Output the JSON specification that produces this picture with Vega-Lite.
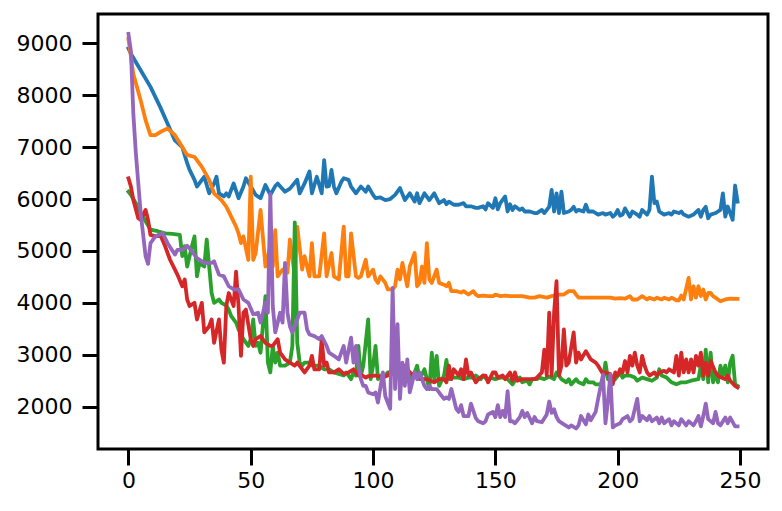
{
"$schema": "https://vega.github.io/schema/vega-lite/v6.json",
"width": 670, "height": 435,
"autosize": "none",
"padding": {"left": 98, "top": 14, "right": 14, "bottom": 62},
"background": "white",
"config": {"view": {"stroke": "black", "strokeWidth": 3}, "font": "DejaVu Sans"},
"data": {"values": [
{"s":0,"x":0,"y":8900},{"s":0,"x":1,"y":8800},{"s":0,"x":5,"y":8480},{"s":0,"x":9,"y":8160},{"s":0,"x":13,"y":7770},{"s":0,"x":16,"y":7450},{"s":0,"x":19,"y":7130},{"s":0,"x":22,"y":7000},{"s":0,"x":24,"y":6690},{"s":0,"x":25,"y":6560},{"s":0,"x":27,"y":6370},{"s":0,"x":28,"y":6240},{"s":0,"x":31,"y":6430},{"s":0,"x":33,"y":6110},{"s":0,"x":35,"y":6300},{"s":0,"x":36,"y":6430},{"s":0,"x":37,"y":6110},{"s":0,"x":39,"y":6050},{"s":0,"x":40,"y":6110},{"s":0,"x":41,"y":6050},{"s":0,"x":43,"y":6300},{"s":0,"x":45,"y":6015},{"s":0,"x":47,"y":6240},{"s":0,"x":48,"y":6400},{"s":0,"x":50,"y":6240},{"s":0,"x":52,"y":6080},{"s":0,"x":54,"y":6015},{"s":0,"x":56,"y":6270},{"s":0,"x":58,"y":6080},{"s":0,"x":60,"y":6250},{"s":0,"x":61,"y":6300},{"s":0,"x":64,"y":6140},{"s":0,"x":66,"y":6200},{"s":0,"x":69,"y":6370},{"s":0,"x":70,"y":6110},{"s":0,"x":72,"y":6300},{"s":0,"x":74,"y":6530},{"s":0,"x":75,"y":6110},{"s":0,"x":77,"y":6430},{"s":0,"x":79,"y":6110},{"s":0,"x":80,"y":6750},{"s":0,"x":81,"y":6240},{"s":0,"x":82,"y":6250},{"s":0,"x":83,"y":6560},{"s":0,"x":84,"y":6240},{"s":0,"x":85,"y":6110},{"s":0,"x":87,"y":6330},{"s":0,"x":88,"y":6400},{"s":0,"x":90,"y":6370},{"s":0,"x":91,"y":6240},{"s":0,"x":93,"y":6110},{"s":0,"x":94,"y":6175},{"s":0,"x":95,"y":6240},{"s":0,"x":97,"y":6140},{"s":0,"x":98,"y":6240},{"s":0,"x":100,"y":6080},{"s":0,"x":101,"y":6015},{"s":0,"x":103,"y":6030},{"s":0,"x":105,"y":5980},{"s":0,"x":107,"y":6000},{"s":0,"x":109,"y":6080},{"s":0,"x":111,"y":6210},{"s":0,"x":113,"y":5980},{"s":0,"x":115,"y":6110},{"s":0,"x":117,"y":5950},{"s":0,"x":118,"y":6110},{"s":0,"x":119,"y":5920},{"s":0,"x":121,"y":6110},{"s":0,"x":123,"y":5980},{"s":0,"x":125,"y":6110},{"s":0,"x":127,"y":5920},{"s":0,"x":129,"y":5980},{"s":0,"x":130,"y":5900},{"s":0,"x":131,"y":5950},{"s":0,"x":133,"y":5890},{"s":0,"x":135,"y":5890},{"s":0,"x":137,"y":5920},{"s":0,"x":138,"y":5860},{"s":0,"x":140,"y":5860},{"s":0,"x":142,"y":5830},{"s":0,"x":143,"y":5830},{"s":0,"x":145,"y":5860},{"s":0,"x":146,"y":5800},{"s":0,"x":147,"y":5920},{"s":0,"x":149,"y":5830},{"s":0,"x":150,"y":6015},{"s":0,"x":151,"y":5800},{"s":0,"x":152,"y":5920},{"s":0,"x":154,"y":6050},{"s":0,"x":155,"y":5760},{"s":0,"x":156,"y":5900},{"s":0,"x":157,"y":5790},{"s":0,"x":158,"y":5860},{"s":0,"x":160,"y":5790},{"s":0,"x":161,"y":5820},{"s":0,"x":162,"y":5760},{"s":0,"x":164,"y":5760},{"s":0,"x":166,"y":5730},{"s":0,"x":167,"y":5730},{"s":0,"x":169,"y":5790},{"s":0,"x":170,"y":5730},{"s":0,"x":172,"y":5850},{"s":0,"x":173,"y":6175},{"s":0,"x":174,"y":5760},{"s":0,"x":175,"y":6110},{"s":0,"x":176,"y":5730},{"s":0,"x":177,"y":6140},{"s":0,"x":178,"y":5730},{"s":0,"x":180,"y":5760},{"s":0,"x":181,"y":5790},{"s":0,"x":182,"y":5850},{"s":0,"x":183,"y":5760},{"s":0,"x":184,"y":5790},{"s":0,"x":186,"y":5760},{"s":0,"x":187,"y":5890},{"s":0,"x":188,"y":5760},{"s":0,"x":190,"y":5760},{"s":0,"x":192,"y":5700},{"s":0,"x":194,"y":5730},{"s":0,"x":195,"y":5700},{"s":0,"x":197,"y":5730},{"s":0,"x":198,"y":5660},{"s":0,"x":199,"y":5700},{"s":0,"x":200,"y":5790},{"s":0,"x":201,"y":5680},{"s":0,"x":202,"y":5700},{"s":0,"x":203,"y":5820},{"s":0,"x":205,"y":5660},{"s":0,"x":206,"y":5760},{"s":0,"x":208,"y":5700},{"s":0,"x":209,"y":5660},{"s":0,"x":210,"y":5790},{"s":0,"x":212,"y":5700},{"s":0,"x":213,"y":5790},{"s":0,"x":214,"y":6430},{"s":0,"x":215,"y":5920},{"s":0,"x":216,"y":5950},{"s":0,"x":217,"y":5760},{"s":0,"x":218,"y":5730},{"s":0,"x":219,"y":5700},{"s":0,"x":221,"y":5730},{"s":0,"x":222,"y":5700},{"s":0,"x":223,"y":5760},{"s":0,"x":225,"y":5730},{"s":0,"x":226,"y":5760},{"s":0,"x":227,"y":5700},{"s":0,"x":229,"y":5660},{"s":0,"x":231,"y":5700},{"s":0,"x":233,"y":5790},{"s":0,"x":234,"y":5660},{"s":0,"x":235,"y":5790},{"s":0,"x":236,"y":5850},{"s":0,"x":237,"y":5630},{"s":0,"x":238,"y":5700},{"s":0,"x":240,"y":5730},{"s":0,"x":241,"y":5760},{"s":0,"x":242,"y":5790},{"s":0,"x":243,"y":6110},{"s":0,"x":244,"y":5660},{"s":0,"x":245,"y":5855},{"s":0,"x":246,"y":5730},{"s":0,"x":247,"y":5600},{"s":0,"x":248,"y":6260},{"s":0,"x":249,"y":5950},
{"s":1,"x":0,"y":9080},{"s":1,"x":2,"y":8410},{"s":1,"x":5,"y":7900},{"s":1,"x":7,"y":7520},{"s":1,"x":9,"y":7230},{"s":1,"x":11,"y":7230},{"s":1,"x":13,"y":7290},{"s":1,"x":16,"y":7360},{"s":1,"x":19,"y":7230},{"s":1,"x":22,"y":7000},{"s":1,"x":24,"y":6850},{"s":1,"x":27,"y":6810},{"s":1,"x":30,"y":6620},{"s":1,"x":33,"y":6370},{"s":1,"x":35,"y":6110},{"s":1,"x":38,"y":5980},{"s":1,"x":40,"y":5855},{"s":1,"x":42,"y":5660},{"s":1,"x":44,"y":5470},{"s":1,"x":45,"y":5340},{"s":1,"x":46,"y":5150},{"s":1,"x":47,"y":5280},{"s":1,"x":49,"y":4830},{"s":1,"x":50,"y":6430},{"s":1,"x":51,"y":4830},{"s":1,"x":52,"y":4960},{"s":1,"x":54,"y":5790},{"s":1,"x":56,"y":4700},{"s":1,"x":58,"y":5090},{"s":1,"x":59,"y":4700},{"s":1,"x":60,"y":5400},{"s":1,"x":61,"y":4510},{"s":1,"x":63,"y":4640},{"s":1,"x":65,"y":4580},{"s":1,"x":66,"y":5220},{"s":1,"x":68,"y":4510},{"s":1,"x":69,"y":5470},{"s":1,"x":71,"y":4640},{"s":1,"x":72,"y":4900},{"s":1,"x":74,"y":4510},{"s":1,"x":75,"y":5150},{"s":1,"x":76,"y":4510},{"s":1,"x":78,"y":4510},{"s":1,"x":80,"y":5340},{"s":1,"x":81,"y":4510},{"s":1,"x":83,"y":4960},{"s":1,"x":84,"y":4510},{"s":1,"x":86,"y":4450},{"s":1,"x":88,"y":5470},{"s":1,"x":89,"y":4510},{"s":1,"x":90,"y":4510},{"s":1,"x":91,"y":5340},{"s":1,"x":93,"y":4510},{"s":1,"x":94,"y":4480},{"s":1,"x":95,"y":4510},{"s":1,"x":97,"y":4830},{"s":1,"x":98,"y":4510},{"s":1,"x":100,"y":4640},{"s":1,"x":101,"y":4450},{"s":1,"x":102,"y":4385},{"s":1,"x":103,"y":4510},{"s":1,"x":105,"y":4385},{"s":1,"x":106,"y":4260},{"s":1,"x":108,"y":4260},{"s":1,"x":109,"y":4320},{"s":1,"x":110,"y":4640},{"s":1,"x":111,"y":4450},{"s":1,"x":112,"y":4770},{"s":1,"x":114,"y":4320},{"s":1,"x":115,"y":4700},{"s":1,"x":117,"y":4960},{"s":1,"x":118,"y":4320},{"s":1,"x":119,"y":4385},{"s":1,"x":120,"y":4700},{"s":1,"x":121,"y":4385},{"s":1,"x":122,"y":5150},{"s":1,"x":123,"y":4450},{"s":1,"x":124,"y":4385},{"s":1,"x":126,"y":4640},{"s":1,"x":127,"y":4385},{"s":1,"x":129,"y":4350},{"s":1,"x":130,"y":4320},{"s":1,"x":131,"y":4385},{"s":1,"x":132,"y":4225},{"s":1,"x":134,"y":4225},{"s":1,"x":136,"y":4200},{"s":1,"x":137,"y":4225},{"s":1,"x":139,"y":4160},{"s":1,"x":141,"y":4225},{"s":1,"x":142,"y":4160},{"s":1,"x":143,"y":4130},{"s":1,"x":145,"y":4140},{"s":1,"x":147,"y":4130},{"s":1,"x":149,"y":4130},{"s":1,"x":150,"y":4160},{"s":1,"x":152,"y":4130},{"s":1,"x":154,"y":4140},{"s":1,"x":156,"y":4130},{"s":1,"x":159,"y":4130},{"s":1,"x":161,"y":4130},{"s":1,"x":164,"y":4100},{"s":1,"x":166,"y":4100},{"s":1,"x":168,"y":4130},{"s":1,"x":171,"y":4100},{"s":1,"x":173,"y":4130},{"s":1,"x":176,"y":4160},{"s":1,"x":178,"y":4160},{"s":1,"x":180,"y":4225},{"s":1,"x":182,"y":4225},{"s":1,"x":183,"y":4160},{"s":1,"x":184,"y":4100},{"s":1,"x":186,"y":4100},{"s":1,"x":188,"y":4100},{"s":1,"x":191,"y":4100},{"s":1,"x":194,"y":4100},{"s":1,"x":197,"y":4100},{"s":1,"x":199,"y":4080},{"s":1,"x":201,"y":4090},{"s":1,"x":203,"y":4080},{"s":1,"x":205,"y":4130},{"s":1,"x":206,"y":4065},{"s":1,"x":208,"y":4065},{"s":1,"x":210,"y":4130},{"s":1,"x":212,"y":4065},{"s":1,"x":213,"y":4100},{"s":1,"x":215,"y":4065},{"s":1,"x":216,"y":4100},{"s":1,"x":218,"y":4065},{"s":1,"x":219,"y":4100},{"s":1,"x":221,"y":4065},{"s":1,"x":222,"y":4100},{"s":1,"x":224,"y":4050},{"s":1,"x":225,"y":4050},{"s":1,"x":226,"y":4140},{"s":1,"x":227,"y":4065},{"s":1,"x":229,"y":4480},{"s":1,"x":230,"y":4065},{"s":1,"x":231,"y":4320},{"s":1,"x":232,"y":4100},{"s":1,"x":233,"y":4320},{"s":1,"x":234,"y":4130},{"s":1,"x":235,"y":4257},{"s":1,"x":236,"y":4065},{"s":1,"x":237,"y":4190},{"s":1,"x":238,"y":4190},{"s":1,"x":239,"y":4130},{"s":1,"x":240,"y":4100},{"s":1,"x":242,"y":4030},{"s":1,"x":244,"y":4065},{"s":1,"x":246,"y":4080},{"s":1,"x":249,"y":4078},
{"s":2,"x":0,"y":6140},{"s":2,"x":1,"y":6080},{"s":2,"x":3,"y":5920},{"s":2,"x":5,"y":5730},{"s":2,"x":7,"y":5570},{"s":2,"x":9,"y":5410},{"s":2,"x":12,"y":5380},{"s":2,"x":15,"y":5340},{"s":2,"x":18,"y":5330},{"s":2,"x":21,"y":5310},{"s":2,"x":22,"y":4900},{"s":2,"x":23,"y":5090},{"s":2,"x":24,"y":4700},{"s":2,"x":26,"y":5100},{"s":2,"x":27,"y":5280},{"s":2,"x":28,"y":4510},{"s":2,"x":29,"y":4770},{"s":2,"x":31,"y":4700},{"s":2,"x":32,"y":5220},{"s":2,"x":33,"y":4700},{"s":2,"x":34,"y":4190},{"s":2,"x":35,"y":4000},{"s":2,"x":37,"y":4065},{"s":2,"x":38,"y":4000},{"s":2,"x":40,"y":3950},{"s":2,"x":41,"y":3870},{"s":2,"x":42,"y":3745},{"s":2,"x":44,"y":3620},{"s":2,"x":45,"y":3490},{"s":2,"x":47,"y":3300},{"s":2,"x":49,"y":3170},{"s":2,"x":50,"y":3300},{"s":2,"x":51,"y":3680},{"s":2,"x":52,"y":3170},{"s":2,"x":53,"y":3230},{"s":2,"x":54,"y":3040},{"s":2,"x":56,"y":4130},{"s":2,"x":57,"y":2850},{"s":2,"x":58,"y":2660},{"s":2,"x":59,"y":3170},{"s":2,"x":60,"y":2850},{"s":2,"x":61,"y":3040},{"s":2,"x":62,"y":2790},{"s":2,"x":64,"y":2790},{"s":2,"x":66,"y":2850},{"s":2,"x":67,"y":3170},{"s":2,"x":68,"y":5550},{"s":2,"x":69,"y":3230},{"s":2,"x":70,"y":2850},{"s":2,"x":71,"y":2790},{"s":2,"x":72,"y":2850},{"s":2,"x":74,"y":2850},{"s":2,"x":75,"y":2790},{"s":2,"x":77,"y":2790},{"s":2,"x":78,"y":2790},{"s":2,"x":80,"y":2720},{"s":2,"x":82,"y":2720},{"s":2,"x":84,"y":2660},{"s":2,"x":86,"y":2630},{"s":2,"x":88,"y":2600},{"s":2,"x":89,"y":2660},{"s":2,"x":91,"y":2530},{"s":2,"x":92,"y":2660},{"s":2,"x":93,"y":2600},{"s":2,"x":94,"y":3170},{"s":2,"x":95,"y":2600},{"s":2,"x":96,"y":2790},{"s":2,"x":98,"y":3680},{"s":2,"x":99,"y":2530},{"s":2,"x":100,"y":2790},{"s":2,"x":101,"y":3170},{"s":2,"x":102,"y":2530},{"s":2,"x":103,"y":2600},{"s":2,"x":105,"y":2600},{"s":2,"x":106,"y":2660},{"s":2,"x":108,"y":2660},{"s":2,"x":109,"y":2600},{"s":2,"x":111,"y":2600},{"s":2,"x":112,"y":2530},{"s":2,"x":114,"y":2660},{"s":2,"x":116,"y":2530},{"s":2,"x":118,"y":2790},{"s":2,"x":119,"y":2530},{"s":2,"x":121,"y":2720},{"s":2,"x":123,"y":2340},{"s":2,"x":124,"y":3040},{"s":2,"x":125,"y":2530},{"s":2,"x":126,"y":2980},{"s":2,"x":127,"y":2400},{"s":2,"x":129,"y":2600},{"s":2,"x":130,"y":2900},{"s":2,"x":131,"y":2530},{"s":2,"x":132,"y":2600},{"s":2,"x":133,"y":2560},{"s":2,"x":135,"y":2560},{"s":2,"x":137,"y":2530},{"s":2,"x":139,"y":2560},{"s":2,"x":141,"y":2560},{"s":2,"x":142,"y":2600},{"s":2,"x":144,"y":2530},{"s":2,"x":145,"y":2600},{"s":2,"x":147,"y":2500},{"s":2,"x":148,"y":2560},{"s":2,"x":150,"y":2530},{"s":2,"x":152,"y":2560},{"s":2,"x":154,"y":2560},{"s":2,"x":155,"y":2530},{"s":2,"x":157,"y":2430},{"s":2,"x":158,"y":2500},{"s":2,"x":160,"y":2560},{"s":2,"x":161,"y":2470},{"s":2,"x":163,"y":2500},{"s":2,"x":164,"y":2430},{"s":2,"x":165,"y":2530},{"s":2,"x":167,"y":2530},{"s":2,"x":168,"y":2560},{"s":2,"x":170,"y":2530},{"s":2,"x":172,"y":2580},{"s":2,"x":174,"y":2530},{"s":2,"x":175,"y":2660},{"s":2,"x":177,"y":2530},{"s":2,"x":179,"y":2470},{"s":2,"x":180,"y":2530},{"s":2,"x":181,"y":2430},{"s":2,"x":183,"y":2530},{"s":2,"x":184,"y":2470},{"s":2,"x":186,"y":2430},{"s":2,"x":187,"y":2530},{"s":2,"x":188,"y":2470},{"s":2,"x":190,"y":2470},{"s":2,"x":191,"y":2430},{"s":2,"x":193,"y":2430},{"s":2,"x":194,"y":2530},{"s":2,"x":195,"y":2850},{"s":2,"x":196,"y":2530},{"s":2,"x":198,"y":2500},{"s":2,"x":199,"y":2530},{"s":2,"x":201,"y":2660},{"s":2,"x":202,"y":2560},{"s":2,"x":203,"y":2600},{"s":2,"x":205,"y":2600},{"s":2,"x":207,"y":2560},{"s":2,"x":208,"y":2500},{"s":2,"x":210,"y":2560},{"s":2,"x":212,"y":2530},{"s":2,"x":214,"y":2500},{"s":2,"x":216,"y":2560},{"s":2,"x":217,"y":2720},{"s":2,"x":218,"y":2600},{"s":2,"x":220,"y":2560},{"s":2,"x":222,"y":2470},{"s":2,"x":224,"y":2430},{"s":2,"x":226,"y":2470},{"s":2,"x":228,"y":2470},{"s":2,"x":230,"y":2500},{"s":2,"x":233,"y":2530},{"s":2,"x":234,"y":2790},{"s":2,"x":235,"y":2530},{"s":2,"x":236,"y":3100},{"s":2,"x":237,"y":2470},{"s":2,"x":238,"y":3040},{"s":2,"x":239,"y":2470},{"s":2,"x":240,"y":2660},{"s":2,"x":241,"y":2470},{"s":2,"x":242,"y":2790},{"s":2,"x":243,"y":2600},{"s":2,"x":244,"y":2790},{"s":2,"x":245,"y":2470},{"s":2,"x":246,"y":2850},{"s":2,"x":247,"y":2980},{"s":2,"x":248,"y":2430},{"s":2,"x":249,"y":2400},
{"s":3,"x":0,"y":6400},{"s":3,"x":1,"y":6240},{"s":3,"x":2,"y":5980},{"s":3,"x":4,"y":5630},{"s":3,"x":5,"y":5600},{"s":3,"x":7,"y":5790},{"s":3,"x":8,"y":5600},{"s":3,"x":9,"y":5310},{"s":3,"x":11,"y":5280},{"s":3,"x":13,"y":5310},{"s":3,"x":15,"y":5090},{"s":3,"x":17,"y":4830},{"s":3,"x":19,"y":4640},{"s":3,"x":20,"y":4545},{"s":3,"x":22,"y":4320},{"s":3,"x":23,"y":4450},{"s":3,"x":24,"y":4065},{"s":3,"x":25,"y":3940},{"s":3,"x":27,"y":4000},{"s":3,"x":28,"y":3680},{"s":3,"x":30,"y":4000},{"s":3,"x":31,"y":3430},{"s":3,"x":33,"y":3550},{"s":3,"x":34,"y":3680},{"s":3,"x":35,"y":3230},{"s":3,"x":37,"y":3680},{"s":3,"x":38,"y":3100},{"s":3,"x":39,"y":2850},{"s":3,"x":40,"y":3940},{"s":3,"x":41,"y":4190},{"s":3,"x":43,"y":3940},{"s":3,"x":44,"y":4600},{"s":3,"x":45,"y":3940},{"s":3,"x":46,"y":2980},{"s":3,"x":47,"y":3810},{"s":3,"x":48,"y":3870},{"s":3,"x":50,"y":3300},{"s":3,"x":51,"y":3170},{"s":3,"x":52,"y":3300},{"s":3,"x":54,"y":3360},{"s":3,"x":56,"y":3230},{"s":3,"x":58,"y":3170},{"s":3,"x":59,"y":3170},{"s":3,"x":61,"y":3300},{"s":3,"x":62,"y":3040},{"s":3,"x":64,"y":2910},{"s":3,"x":66,"y":2850},{"s":3,"x":68,"y":2790},{"s":3,"x":69,"y":2850},{"s":3,"x":72,"y":2660},{"s":3,"x":74,"y":2790},{"s":3,"x":75,"y":2980},{"s":3,"x":76,"y":2720},{"s":3,"x":78,"y":2720},{"s":3,"x":79,"y":3300},{"s":3,"x":80,"y":2790},{"s":3,"x":81,"y":2850},{"s":3,"x":82,"y":2660},{"s":3,"x":84,"y":2660},{"s":3,"x":86,"y":2720},{"s":3,"x":88,"y":2630},{"s":3,"x":90,"y":2660},{"s":3,"x":92,"y":2720},{"s":3,"x":93,"y":2660},{"s":3,"x":94,"y":2600},{"s":3,"x":95,"y":2620},{"s":3,"x":97,"y":2560},{"s":3,"x":98,"y":2590},{"s":3,"x":101,"y":2600},{"s":3,"x":104,"y":2560},{"s":3,"x":106,"y":2600},{"s":3,"x":109,"y":2790},{"s":3,"x":111,"y":2720},{"s":3,"x":113,"y":2790},{"s":3,"x":115,"y":2660},{"s":3,"x":117,"y":2600},{"s":3,"x":120,"y":2530},{"s":3,"x":122,"y":2530},{"s":3,"x":125,"y":2470},{"s":3,"x":127,"y":2530},{"s":3,"x":129,"y":2530},{"s":3,"x":130,"y":2470},{"s":3,"x":131,"y":2790},{"s":3,"x":132,"y":2530},{"s":3,"x":133,"y":2720},{"s":3,"x":135,"y":2600},{"s":3,"x":136,"y":2720},{"s":3,"x":137,"y":2530},{"s":3,"x":138,"y":2910},{"s":3,"x":139,"y":2600},{"s":3,"x":140,"y":2660},{"s":3,"x":142,"y":2470},{"s":3,"x":143,"y":2530},{"s":3,"x":145,"y":2600},{"s":3,"x":146,"y":2600},{"s":3,"x":147,"y":2470},{"s":3,"x":149,"y":2660},{"s":3,"x":150,"y":2660},{"s":3,"x":151,"y":2560},{"s":3,"x":153,"y":2600},{"s":3,"x":154,"y":2530},{"s":3,"x":156,"y":2660},{"s":3,"x":157,"y":2500},{"s":3,"x":158,"y":2660},{"s":3,"x":159,"y":2500},{"s":3,"x":161,"y":2530},{"s":3,"x":163,"y":2530},{"s":3,"x":165,"y":2530},{"s":3,"x":166,"y":2530},{"s":3,"x":167,"y":2560},{"s":3,"x":169,"y":2660},{"s":3,"x":170,"y":3100},{"s":3,"x":171,"y":2600},{"s":3,"x":172,"y":3810},{"s":3,"x":173,"y":2600},{"s":3,"x":174,"y":3810},{"s":3,"x":175,"y":4420},{"s":3,"x":176,"y":2600},{"s":3,"x":177,"y":2790},{"s":3,"x":178,"y":3490},{"s":3,"x":179,"y":2790},{"s":3,"x":180,"y":2850},{"s":3,"x":182,"y":3430},{"s":3,"x":183,"y":2850},{"s":3,"x":184,"y":3040},{"s":3,"x":185,"y":2910},{"s":3,"x":187,"y":3070},{"s":3,"x":189,"y":2910},{"s":3,"x":191,"y":2850},{"s":3,"x":192,"y":2790},{"s":3,"x":194,"y":2630},{"s":3,"x":195,"y":2660},{"s":3,"x":197,"y":2630},{"s":3,"x":198,"y":2435},{"s":3,"x":199,"y":2660},{"s":3,"x":200,"y":2600},{"s":3,"x":201,"y":2720},{"s":3,"x":202,"y":2660},{"s":3,"x":203,"y":2880},{"s":3,"x":204,"y":2660},{"s":3,"x":205,"y":2980},{"s":3,"x":206,"y":2790},{"s":3,"x":207,"y":3040},{"s":3,"x":208,"y":2790},{"s":3,"x":209,"y":2660},{"s":3,"x":210,"y":2980},{"s":3,"x":211,"y":2790},{"s":3,"x":212,"y":2660},{"s":3,"x":213,"y":2600},{"s":3,"x":215,"y":2660},{"s":3,"x":216,"y":2600},{"s":3,"x":217,"y":2660},{"s":3,"x":219,"y":2690},{"s":3,"x":220,"y":2660},{"s":3,"x":221,"y":2720},{"s":3,"x":223,"y":2660},{"s":3,"x":224,"y":2980},{"s":3,"x":225,"y":2600},{"s":3,"x":226,"y":3040},{"s":3,"x":227,"y":2660},{"s":3,"x":228,"y":2910},{"s":3,"x":229,"y":2660},{"s":3,"x":230,"y":2910},{"s":3,"x":231,"y":2660},{"s":3,"x":232,"y":2980},{"s":3,"x":233,"y":2790},{"s":3,"x":234,"y":3040},{"s":3,"x":235,"y":2600},{"s":3,"x":236,"y":2850},{"s":3,"x":237,"y":2600},{"s":3,"x":238,"y":2880},{"s":3,"x":240,"y":2660},{"s":3,"x":241,"y":2600},{"s":3,"x":242,"y":2570},{"s":3,"x":244,"y":2530},{"s":3,"x":245,"y":2600},{"s":3,"x":246,"y":2500},{"s":3,"x":248,"y":2400},{"s":3,"x":249,"y":2370},
{"s":4,"x":0,"y":9180},{"s":4,"x":1,"y":8850},{"s":4,"x":2,"y":7640},{"s":4,"x":3,"y":6900},{"s":4,"x":5,"y":5730},{"s":4,"x":7,"y":4900},{"s":4,"x":8,"y":4750},{"s":4,"x":9,"y":5150},{"s":4,"x":11,"y":5280},{"s":4,"x":14,"y":5340},{"s":4,"x":16,"y":5150},{"s":4,"x":19,"y":4930},{"s":4,"x":20,"y":5020},{"s":4,"x":22,"y":5020},{"s":4,"x":24,"y":5100},{"s":4,"x":26,"y":4990},{"s":4,"x":28,"y":4860},{"s":4,"x":31,"y":4770},{"s":4,"x":34,"y":4770},{"s":4,"x":35,"y":4800},{"s":4,"x":37,"y":4545},{"s":4,"x":39,"y":4510},{"s":4,"x":41,"y":4320},{"s":4,"x":43,"y":4260},{"s":4,"x":45,"y":4260},{"s":4,"x":47,"y":4065},{"s":4,"x":49,"y":4000},{"s":4,"x":51,"y":3780},{"s":4,"x":53,"y":3810},{"s":4,"x":54,"y":3620},{"s":4,"x":56,"y":4000},{"s":4,"x":57,"y":3810},{"s":4,"x":58,"y":6100},{"s":4,"x":59,"y":3940},{"s":4,"x":60,"y":3430},{"s":4,"x":62,"y":3810},{"s":4,"x":63,"y":3620},{"s":4,"x":64,"y":4770},{"s":4,"x":65,"y":3810},{"s":4,"x":66,"y":3550},{"s":4,"x":67,"y":3430},{"s":4,"x":69,"y":3680},{"s":4,"x":70,"y":3810},{"s":4,"x":72,"y":3810},{"s":4,"x":73,"y":3490},{"s":4,"x":74,"y":3390},{"s":4,"x":76,"y":3360},{"s":4,"x":78,"y":3300},{"s":4,"x":79,"y":3360},{"s":4,"x":81,"y":3170},{"s":4,"x":82,"y":3040},{"s":4,"x":84,"y":2980},{"s":4,"x":86,"y":2910},{"s":4,"x":88,"y":3170},{"s":4,"x":89,"y":2850},{"s":4,"x":91,"y":3330},{"s":4,"x":92,"y":2850},{"s":4,"x":93,"y":3170},{"s":4,"x":94,"y":2790},{"s":4,"x":95,"y":2530},{"s":4,"x":96,"y":2400},{"s":4,"x":97,"y":2400},{"s":4,"x":98,"y":2275},{"s":4,"x":100,"y":2240},{"s":4,"x":101,"y":2275},{"s":4,"x":102,"y":2080},{"s":4,"x":104,"y":2660},{"s":4,"x":105,"y":2200},{"s":4,"x":106,"y":2080},{"s":4,"x":107,"y":1960},{"s":4,"x":108,"y":4290},{"s":4,"x":109,"y":2340},{"s":4,"x":110,"y":3590},{"s":4,"x":111,"y":2150},{"s":4,"x":112,"y":2850},{"s":4,"x":113,"y":2400},{"s":4,"x":114,"y":2910},{"s":4,"x":115,"y":2275},{"s":4,"x":117,"y":2660},{"s":4,"x":118,"y":2530},{"s":4,"x":119,"y":2660},{"s":4,"x":121,"y":2400},{"s":4,"x":122,"y":2340},{"s":4,"x":123,"y":2400},{"s":4,"x":124,"y":2340},{"s":4,"x":126,"y":2340},{"s":4,"x":128,"y":2210},{"s":4,"x":129,"y":2150},{"s":4,"x":130,"y":2180},{"s":4,"x":131,"y":2150},{"s":4,"x":132,"y":2340},{"s":4,"x":134,"y":1960},{"s":4,"x":135,"y":1900},{"s":4,"x":136,"y":2030},{"s":4,"x":137,"y":1820},{"s":4,"x":139,"y":1820},{"s":4,"x":140,"y":2060},{"s":4,"x":142,"y":1780},{"s":4,"x":143,"y":1720},{"s":4,"x":145,"y":1680},{"s":4,"x":146,"y":1720},{"s":4,"x":147,"y":1850},{"s":4,"x":149,"y":1900},{"s":4,"x":150,"y":1800},{"s":4,"x":151,"y":2030},{"s":4,"x":152,"y":1800},{"s":4,"x":153,"y":1920},{"s":4,"x":154,"y":1800},{"s":4,"x":155,"y":2300},{"s":4,"x":156,"y":1720},{"s":4,"x":157,"y":1720},{"s":4,"x":158,"y":1680},{"s":4,"x":160,"y":1800},{"s":4,"x":161,"y":1920},{"s":4,"x":162,"y":1800},{"s":4,"x":163,"y":1880},{"s":4,"x":165,"y":1680},{"s":4,"x":166,"y":1800},{"s":4,"x":167,"y":1720},{"s":4,"x":169,"y":1700},{"s":4,"x":171,"y":1850},{"s":4,"x":172,"y":2100},{"s":4,"x":173,"y":1880},{"s":4,"x":174,"y":1950},{"s":4,"x":175,"y":1800},{"s":4,"x":176,"y":1720},{"s":4,"x":178,"y":1660},{"s":4,"x":180,"y":1600},{"s":4,"x":181,"y":1640},{"s":4,"x":183,"y":1580},{"s":4,"x":184,"y":1640},{"s":4,"x":185,"y":1820},{"s":4,"x":187,"y":1660},{"s":4,"x":188,"y":1850},{"s":4,"x":189,"y":1740},{"s":4,"x":191,"y":1900},{"s":4,"x":192,"y":2150},{"s":4,"x":194,"y":2620},{"s":4,"x":195,"y":1680},{"s":4,"x":196,"y":2100},{"s":4,"x":197,"y":2620},{"s":4,"x":198,"y":1600},{"s":4,"x":199,"y":1640},{"s":4,"x":201,"y":1680},{"s":4,"x":202,"y":1760},{"s":4,"x":204,"y":1820},{"s":4,"x":205,"y":1720},{"s":4,"x":206,"y":1760},{"s":4,"x":208,"y":2150},{"s":4,"x":209,"y":1720},{"s":4,"x":210,"y":1820},{"s":4,"x":212,"y":1740},{"s":4,"x":213,"y":1820},{"s":4,"x":214,"y":1720},{"s":4,"x":216,"y":1790},{"s":4,"x":217,"y":1680},{"s":4,"x":218,"y":1790},{"s":4,"x":219,"y":1680},{"s":4,"x":221,"y":1760},{"s":4,"x":222,"y":1640},{"s":4,"x":223,"y":1720},{"s":4,"x":225,"y":1640},{"s":4,"x":226,"y":1760},{"s":4,"x":228,"y":1640},{"s":4,"x":229,"y":1720},{"s":4,"x":231,"y":1640},{"s":4,"x":232,"y":1720},{"s":4,"x":233,"y":1820},{"s":4,"x":234,"y":1620},{"s":4,"x":235,"y":1820},{"s":4,"x":236,"y":2060},{"s":4,"x":237,"y":1760},{"s":4,"x":239,"y":1680},{"s":4,"x":240,"y":1900},{"s":4,"x":241,"y":1680},{"s":4,"x":242,"y":1640},{"s":4,"x":244,"y":1790},{"s":4,"x":245,"y":1680},{"s":4,"x":246,"y":1790},{"s":4,"x":248,"y":1620},{"s":4,"x":249,"y":1620}
]},
"mark": {"type": "line", "strokeWidth": 3.8, "strokeJoin": "round", "strokeCap": "square", "clip": true},
"encoding": {
"x": {"field": "x", "type": "quantitative", "scale": {"domain": [-12.45, 261.45], "nice": false, "zero": false},
 "axis": {"values": [0,50,100,150,200,250], "format": "d", "title": null, "grid": false, "domain": false, "tickColor": "black", "tickWidth": 3, "tickSize": 16, "labelFontSize": 22, "labelColor": "black", "labelPadding": 5, "labelFont": "DejaVu Sans"}},
"y": {"field": "y", "type": "quantitative", "scale": {"domain": [1185, 9564], "nice": false, "zero": false},
 "axis": {"values": [2000,3000,4000,5000,6000,7000,8000,9000], "format": "d", "title": null, "grid": false, "domain": false, "tickColor": "black", "tickWidth": 3, "tickSize": 16, "labelFontSize": 22, "labelColor": "black", "labelPadding": 10, "labelFont": "DejaVu Sans"}},
"color": {"field": "s", "type": "nominal", "scale": {"domain": [0,1,2,3,4], "range": ["#1f77b4","#ff7f0e","#2ca02c","#d62728","#9467bd"]}, "legend": null}
}
}
